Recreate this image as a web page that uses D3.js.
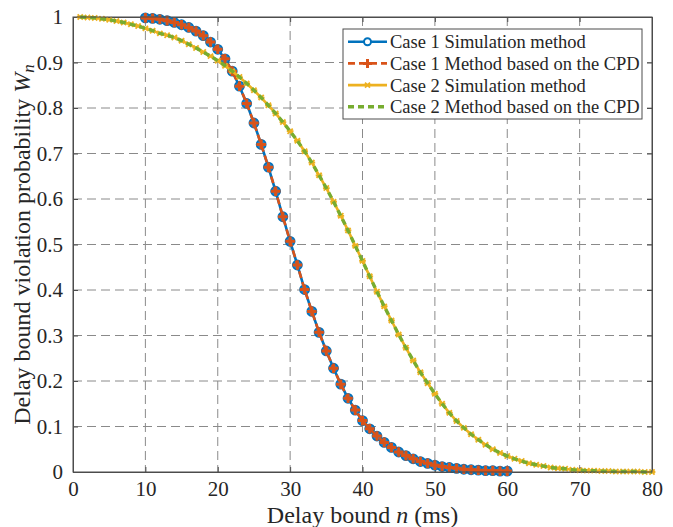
<!DOCTYPE html>
<html>
<head>
<meta charset="utf-8">
<script src="https://cdn.jsdelivr.net/npm/d3@7"></script>
<style>
  body { margin: 0; background: #fff; }
</style>
</head>
<body>
<div id="chart"></div>
<script>
// Case 1: delay bound n (ms) and violation probability
const case1Delay = [10,11,12,13,14,15,16,17,18,19,20,21,22,23,24,25,26,27,28,29,30,
  31,32,33,34,35,36,37,38,39,40,41,42,43,44,45,46,47,48,49,50,51,52,53,54,55,56,57,58,59,60];
const case1Prob = [0.998,0.997,0.995,0.992,0.988,0.983,0.977,0.969,0.959,0.945,0.929,
  0.908,0.881,0.848,0.810,0.767,0.720,0.670,0.617,0.561,0.507,
  0.455,0.401,0.353,0.307,0.266,0.228,0.193,0.162,0.136,0.113,
  0.095,0.079,0.065,0.054,0.044,0.036,0.029,0.023,0.019,0.015,
  0.012,0.010,0.008,0.006,0.005,0.004,0.003,0.003,0.002,0.002];

// Case 2
const case2Delay = [1,2,3,4,5,6,7,8,9,10,11,12,13,14,15,16,17,18,19,20,
  21,22,23,24,25,26,27,28,29,30,31,32,33,34,35,36,37,38,39,40,
  41,42,43,44,45,46,47,48,49,50,51,52,53,54,55,56,57,58,59,60,
  61,62,63,64,65,66,67,68,69,70,71,72,73,74,75,76,77,78,79,80];
const case2Prob = [1.000,0.999,0.998,0.996,0.994,0.991,0.988,0.984,0.980,0.975,
  0.970,0.964,0.960,0.955,0.948,0.940,0.932,0.923,0.914,0.904,
  0.893,0.881,0.868,0.854,0.839,0.823,0.806,0.788,0.769,0.749,
  0.728,0.705,0.680,0.652,0.624,0.594,0.563,0.531,0.497,0.464,
  0.430,0.396,0.364,0.333,0.302,0.273,0.245,0.219,0.195,0.172,
  0.150,0.130,0.112,0.097,0.083,0.071,0.060,0.050,0.042,0.035,
  0.029,0.024,0.019,0.016,0.013,0.010,0.008,0.007,0.005,0.004,
  0.003,0.003,0.002,0.002,0.001,0.001,0.001,0.001,0.000,0.000];

const xTicks = [0,10,20,30,40,50,60,70,80];
const yTicks = [0,0.1,0.2,0.3,0.4,0.5,0.6,0.7,0.8,0.9,1];
const legendLabels = ["Case 1 Simulation method", "Case 1 Method based on the CPD",
  "Case 2 Simulation method", "Case 2 Method based on the CPD"];

const colors = { blue: "#0072BD", orange: "#D95319", yellow: "#EDB120", green: "#77AC30" };
const serif = '"Liberation Serif"';
const textColor = "#262626";

const W = 673, H = 527;
const margin = { top: 17, right: 21, bottom: 55, left: 73 };
const width = W - margin.left - margin.right;
const height = H - margin.top - margin.bottom;

const svg = d3.select("#chart").append("svg")
  .attr("width", W).attr("height", H)
  .style("background", "#fff");

const g = svg.append("g").attr("transform", `translate(${margin.left},${margin.top})`);

const x = d3.scaleLinear().domain([0, 80]).range([0, width]);
const y = d3.scaleLinear().domain([0, 1]).range([height, 0]);

// grid
const gridColor = "#8a8a8a";
g.append("g").selectAll("line").data(xTicks.slice(1, -1)).join("line")
  .attr("x1", d => x(d)).attr("x2", d => x(d))
  .attr("y1", 0).attr("y2", height)
  .attr("stroke", gridColor).attr("stroke-dasharray", "9,5").attr("stroke-width", 1);
g.append("g").selectAll("line").data(yTicks.slice(1, -1)).join("line")
  .attr("y1", d => y(d)).attr("y2", d => y(d))
  .attr("x1", 0).attr("x2", width)
  .attr("stroke", gridColor).attr("stroke-dasharray", "9,5").attr("stroke-width", 1);

// axes (ticks point inward like matlab)
const axisColor = "#4d4d4d";
const xAxis = g.append("g").attr("transform", `translate(0,${height})`)
  .call(d3.axisBottom(x).tickValues(xTicks).tickSize(-5).tickPadding(9).tickFormat(d3.format("d")));
const yAxis = g.append("g")
  .call(d3.axisLeft(y).tickValues(yTicks).tickSize(-5).tickPadding(10).tickFormat(d => d === 0 || d === 1 ? d3.format("d")(d) : d3.format(".1f")(d)));
const xAxisTop = g.append("g")
  .call(d3.axisTop(x).tickValues(xTicks).tickSize(-5).tickFormat(""));
const yAxisRight = g.append("g").attr("transform", `translate(${width},0)`)
  .call(d3.axisRight(y).tickValues(yTicks).tickSize(-5).tickFormat(""));

[xAxis, yAxis, xAxisTop, yAxisRight].forEach(a => {
  a.selectAll("path, line").attr("stroke", axisColor);
  a.selectAll("text")
    .style("font-family", serif).style("font-size", "21px").attr("fill", textColor);
});

// series
const pts1 = case1Delay.map((d, i) => ({ n: d, w: case1Prob[i] }));
const pts2 = case2Delay.map((d, i) => ({ n: d, w: case2Prob[i] }));
const line = d3.line().x(d => x(d.n)).y(d => y(d.w));

const plusPath = (s) => `M${-s},0H${s}M0,${-s}V${s}`;
const crossPath = (s) => `M${-s},${-s}L${s},${s}M${-s},${s}L${s},${-s}M${-s * 1.3},0H${s * 1.3}`;

// case 1 simulation
g.append("path").datum(pts1).attr("d", line)
  .attr("fill", "none").attr("stroke", colors.blue).attr("stroke-width", 2.6);
g.append("g").selectAll("circle").data(pts1).join("circle")
  .attr("cx", d => x(d.n)).attr("cy", d => y(d.w)).attr("r", 4.5)
  .attr("fill", "#2a84c8").attr("stroke", colors.blue).attr("stroke-width", 1.8);

// case 1 CPD
g.append("path").datum(pts1).attr("d", line)
  .attr("fill", "none").attr("stroke", colors.orange).attr("stroke-width", 2.6)
  .attr("stroke-dasharray", "7,4");
g.append("g").selectAll("path").data(pts1).join("path")
  .attr("transform", d => `translate(${x(d.n)},${y(d.w)})`)
  .attr("d", plusPath(4.8)).attr("stroke", colors.orange).attr("stroke-width", 3).attr("fill", "none");

// case 2 simulation
g.append("path").datum(pts2).attr("d", line)
  .attr("fill", "none").attr("stroke", colors.yellow).attr("stroke-width", 2.6);
g.append("g").selectAll("path").data(pts2).join("path")
  .attr("transform", d => `translate(${x(d.n)},${y(d.w)})`)
  .attr("d", crossPath(2.6)).attr("stroke", colors.yellow).attr("stroke-width", 1.8).attr("fill", "none");

// case 2 CPD
g.append("path").datum(pts2).attr("d", line)
  .attr("fill", "none").attr("stroke", colors.green).attr("stroke-width", 3.4)
  .attr("stroke-dasharray", "6,4");

// box on top
g.append("rect").attr("width", width).attr("height", height)
  .attr("fill", "none").attr("stroke", axisColor).attr("stroke-width", 1);

// legend
const lg = svg.append("g").attr("transform", "translate(343,29)");
lg.append("rect").attr("width", 299).attr("height", 90)
  .attr("fill", "#fff").attr("stroke", axisColor).attr("stroke-width", 1);
const rows = lg.selectAll("g.row").data(legendLabels).join("g")
  .attr("class", "row")
  .attr("transform", (d, i) => `translate(0,${12.7 + i * 21.7})`);
rows.each(function (d, i) {
  const r = d3.select(this);
  const styles = [
    { c: colors.blue, w: 2.6, dash: null },
    { c: colors.orange, w: 2.6, dash: "7,4" },
    { c: colors.yellow, w: 2.6, dash: null },
    { c: colors.green, w: 3.4, dash: "6,4" }
  ][i];
  r.append("line").attr("x1", 5).attr("x2", 44).attr("y1", 0).attr("y2", 0)
    .attr("stroke", styles.c).attr("stroke-width", styles.w)
    .attr("stroke-dasharray", styles.dash);
  if (i === 0) r.append("circle").attr("cx", 24.5).attr("cy", 0).attr("r", 3.5)
    .attr("fill", "#fff").attr("stroke", colors.blue).attr("stroke-width", 2);
  if (i === 1) r.append("path").attr("transform", "translate(24.5,0)").attr("d", plusPath(4.5))
    .attr("stroke", colors.orange).attr("stroke-width", 3);
  if (i === 2) r.append("path").attr("transform", "translate(24.5,0)").attr("d", crossPath(2.5))
    .attr("stroke", colors.yellow).attr("stroke-width", 1.8);
  r.append("text").attr("x", 47).attr("y", 0).attr("dy", "0.35em")
    .style("font-family", serif).style("font-size", "18.5px").attr("fill", textColor).text(d);
});

// axis titles
const xt = svg.append("text")
  .attr("x", margin.left + width / 2).attr("y", 523)
  .attr("text-anchor", "middle")
  .style("font-family", serif).style("font-size", "24px").attr("fill", textColor);
xt.append("tspan").text("Delay bound ");
xt.append("tspan").style("font-style", "italic").text("n");
xt.append("tspan").text(" (ms)");

const yt = svg.append("text")
  .attr("transform", `translate(30,${margin.top + height / 2}) rotate(-90)`)
  .attr("text-anchor", "middle")
  .style("font-family", serif).style("font-size", "24px").attr("fill", textColor);
yt.append("tspan").text("Delay bound violation probability ");
yt.append("tspan").style("font-style", "italic").text("W");
yt.append("tspan").style("font-style", "italic").style("font-size", "17px")
  .attr("dy", 4).text("n");
</script>
</body>
</html>
